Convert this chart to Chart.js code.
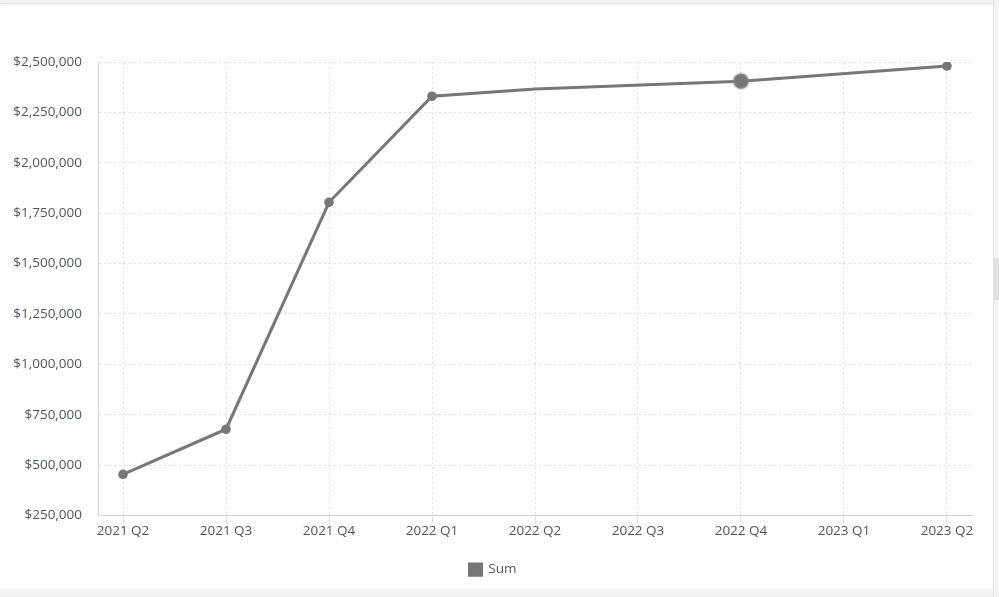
<!DOCTYPE html>
<html>
<head>
<meta charset="utf-8">
<script src="https://cdn.jsdelivr.net/npm/chart.js@4/dist/chart.umd.min.js"></script>
<style>
  html, body { margin: 0; padding: 0; background: #ffffff; overflow: hidden; }
  #wrap { position: absolute; left: 0; top: 0; width: 999px; height: 597px; }
  #topbar { position: absolute; left: 0; top: 0; width: 993px; height: 3px; background: #f3f3f6; border-bottom: 1px solid #e4e4ea; box-shadow: 0 1px 3px rgba(0,0,0,0.05); }
  #rightbar { position: absolute; left: 993px; top: 0; width: 6px; height: 597px; background: #f4f4f4; border-left: 1px solid #e2e2e2; }
  #thumb { position: absolute; left: 994px; top: 258px; width: 5px; height: 42px; background: #e0e0e0; }
  #bottombar { position: absolute; left: 0; top: 588px; width: 993px; height: 9px; background: linear-gradient(#fafafa, #f0f0f0); }
  canvas { position: absolute; left: 0; top: 0; }
</style>
</head>
<body>
<div id="wrap">
  <canvas id="c" width="993" height="588"></canvas>
  <div id="topbar"></div>
  <div id="rightbar"></div>
  <div id="thumb"></div>
  <div id="bottombar"></div>
</div>
<script>
const categories = ["2021 Q2", "2021 Q3", "2021 Q4", "2022 Q1", "2022 Q2", "2022 Q3", "2022 Q4", "2023 Q1", "2023 Q2"];
const sumValues = [454000, 678000, 1804000, 2330000, 2366000, null, 2405000, null, 2480000];
const yTicks = [250000, 500000, 750000, 1000000, 1250000, 1500000, 1750000, 2000000, 2250000, 2500000];

const lineColor = "#777777";
const pointRadii = sumValues.map((v, i) => (i === 4 ? 0 : (i === 6 ? 7.5 : 4.8)));
const pointBorderColors = sumValues.map((v, i) => (i === 6 ? "rgba(150,150,150,0.35)" : lineColor));
const pointBorderWidths = sumValues.map((v, i) => (i === 6 ? 3 : 0));

const fmt = v => "$" + v.toLocaleString("en-US");
const tickFont = { family: "'Open Sans'", size: 13.5 };

new Chart(document.getElementById("c"), {
  type: "line",
  data: {
    datasets: [{
      label: "Sum",
      data: sumValues.map((v, i) => ({ x: i, y: v })),
      borderColor: lineColor,
      backgroundColor: lineColor,
      borderWidth: 3,
      pointRadius: pointRadii,
      pointBackgroundColor: lineColor,
      pointBorderColor: pointBorderColors,
      pointBorderWidth: pointBorderWidths,
      spanGaps: true,
      tension: 0
    }]
  },
  options: {
    responsive: false,
    animation: false,
    layout: { padding: { top: 62, left: 14, right: 21, bottom: 2 } },
    plugins: {
      tooltip: { enabled: false },
      legend: {
        position: "bottom",
        labels: {
          boxWidth: 12,
          boxHeight: 12,
          padding: 0,
          color: "#555a66",
          font: { family: "'Open Sans'", size: 13.5 }
        }
      }
    },
    scales: {
      x: {
        type: "linear",
        min: -0.243,
        max: categories.length - 1 + 0.243,
        afterBuildTicks: s => { s.ticks = categories.map((c, i) => ({ value: i })); },
        afterFit: s => { s.height = 47; },
        ticks: {
          autoSkip: false,
          maxRotation: 0,
          padding: 0,
          color: "#4f5566",
          font: tickFont,
          callback: v => categories[v] ?? ""
        },
        grid: {
          color: "#dedede",
          tickColor: "#dcdce4",
          tickLength: 8,
          drawTicks: true
        },
        border: { color: "#d4d4e0", width: 1, dash: [2, 3] }
      },
      y: {
        min: yTicks[0],
        max: yTicks[yTicks.length - 1],
        afterBuildTicks: s => { s.ticks = yTicks.map(v => ({ value: v })); },
        afterFit: s => { s.width = 84; },
        ticks: {
          padding: 16,
          color: "#4f5566",
          font: tickFont,
          callback: v => fmt(v)
        },
        grid: {
          color: "#dedede",
          drawTicks: false
        },
        border: { color: "#d4d4e0", width: 1, dash: [2, 3] }
      }
    }
  }
});
</script>
</body>
</html>
